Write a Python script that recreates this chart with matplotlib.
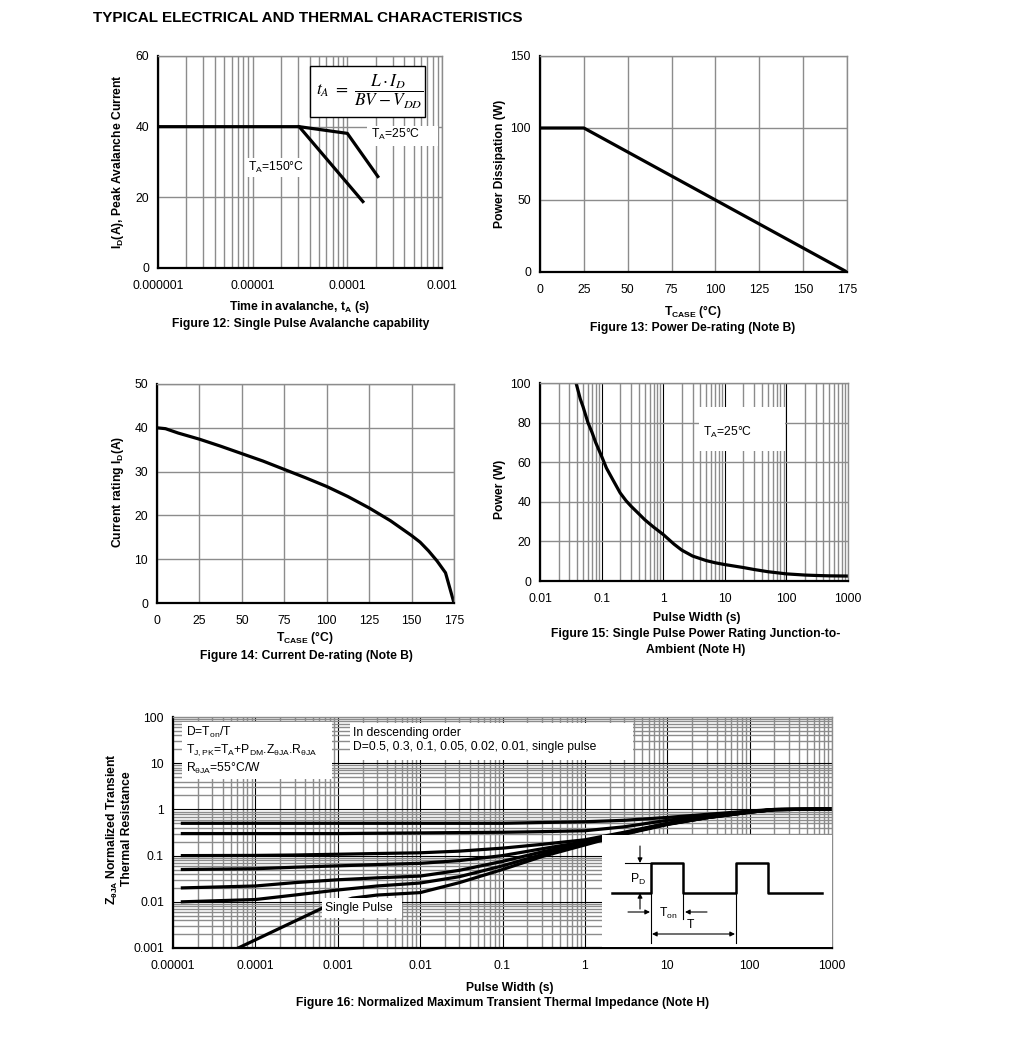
import numpy as np
import matplotlib
matplotlib.use("Agg")
from matplotlib import pyplot as plt
from matplotlib.patches import Rectangle

plt.rcParams['font.family'] = ['Liberation Sans', 'DejaVu Sans']
plt.rcParams['mathtext.fontset'] = 'custom'
plt.rcParams['mathtext.rm'] = 'Liberation Sans'
plt.rcParams['mathtext.it'] = 'Liberation Sans:italic'
plt.rcParams['mathtext.bf'] = 'Liberation Sans:bold'

# ---- data ----
# Fig 12: avalanche capability
t_av_150 = [1e-6, 3.1e-5, 1.46e-4]
id_av_150 = [40, 40, 18.8]
t_av_25 = [3.1e-5, 1e-4, 2.1e-4]
id_av_25 = [40, 38.1, 25.9]
fig12_xticks = [1e-6, 1e-5, 1e-4, 1e-3]
fig12_xlabels = ['0.000001', '0.00001', '0.0001', '0.001']

# Fig 13: power de-rating
tcase_pd = [0, 25, 175]
pd_w = [100, 100, 0]

# Fig 14: current de-rating
tcase_id = [0, 5, 12.5, 25, 37.5, 50, 62.5, 75, 87.5, 100, 112.5, 125,
            137.5, 150, 155, 160, 165, 170, 175]
id_rating = [40, 39.8, 38.8, 37.4, 35.8, 34.1, 32.4, 30.5, 28.6, 26.6, 24.3, 21.7,
             18.8, 15.4, 13.9, 11.9, 9.6, 6.9, 0]

# Fig 15: single pulse power rating
pw15 = [0.0385, 0.045, 0.05, 0.06, 0.07, 0.08, 0.1, 0.12, 0.15, 0.2, 0.25, 0.3,
        0.4, 0.5, 0.7, 1, 1.5, 2, 3, 5, 7, 10, 20, 30, 50, 100, 200, 300, 500, 1000]
pwr15 = [100, 92, 88, 80, 75, 70, 63, 57, 51.5, 44.5, 40.5, 37.8,
         34, 31, 27.2, 23.5, 18.6, 15.6, 12.6, 10.3, 9.2, 8.3, 6.8, 5.8, 4.7, 3.6,
         3.0, 2.8, 2.6, 2.5]
fig15_xticks = [0.01, 0.1, 1, 10, 100, 1000]
fig15_xlabels = ['0.01', '0.1', '1', '10', '100', '1000']

# Fig 16: normalized transient thermal impedance
pw16 = [1.3e-5, 1e-4, 3e-4, 1e-3, 3e-3, 1e-2, 3e-2, 1e-1, 3e-1, 1, 3, 10, 30, 100, 200, 1000]
z_d05 = [0.5, 0.5, 0.5, 0.5, 0.5, 0.5, 0.5, 0.5, 0.52, 0.54, 0.58, 0.67, 0.78, 0.92, 1.0, 1.02]
z_d03 = [0.3, 0.3, 0.3, 0.3, 0.305, 0.31, 0.315, 0.32, 0.33, 0.345, 0.42, 0.58, 0.74, 0.9, 0.99, 1.02]
z_d01 = [0.1, 0.101, 0.103, 0.107, 0.111, 0.115, 0.125, 0.145, 0.175, 0.22, 0.32, 0.5, 0.68, 0.88, 0.99, 1.02]
z_d005 = [0.05, 0.052, 0.056, 0.06, 0.064, 0.068, 0.078, 0.1, 0.14, 0.2, 0.31, 0.49, 0.67, 0.88, 0.99, 1.02]
z_d002 = [0.02, 0.022, 0.026, 0.03, 0.033, 0.036, 0.048, 0.075, 0.12, 0.19, 0.3, 0.48, 0.66, 0.87, 0.99, 1.02]
z_d001 = [0.01, 0.0112, 0.014, 0.018, 0.022, 0.0255, 0.035, 0.06, 0.105, 0.18, 0.3, 0.48, 0.66, 0.87, 0.99, 1.02]
pw16_single = [6.2e-5, 2e-4, 6.5e-4, 1.5e-3, 3e-3, 1e-2, 3e-2, 1e-1, 3e-1, 1, 3, 10, 30, 100, 200, 1000]
z_single = [0.001, 0.0027, 0.0073, 0.012, 0.014, 0.0158, 0.026, 0.05, 0.095, 0.17, 0.29, 0.47,
            0.66, 0.87, 0.99, 1.02]
fig16_xticks = [1e-5, 1e-4, 1e-3, 1e-2, 1e-1, 1, 10, 100, 1000]
fig16_xlabels = ['0.00001', '0.0001', '0.001', '0.01', '0.1', '1', '10', '100', '1000']
fig16_yticks = [1e-3, 1e-2, 1e-1, 1, 10, 100]
fig16_ylabels = ['0.001', '0.01', '0.1', '1', '10', '100']

# inset pulse sketch (figure pixels)
wave_x = [612, 651, 651, 683, 683, 736, 736, 768, 768, 822]
wave_y = [893, 893, 863, 863, 893, 893, 863, 863, 893, 893]

GRID = '#8c8c8c'
FS = 8.7
W, H = 1020, 1041
fig = plt.figure(figsize=(W / 100, H / 100), dpi=100)


def add_ax(l, t, r, b):
    return fig.add_axes([l / W, 1 - b / H, (r - l) / W, (b - t) / H])


def ftext(x, y, s, **kw):
    kw.setdefault('fontsize', FS)
    kw.setdefault('zorder', 7)
    return fig.text(x / W, 1 - y / H, s, **kw)


def white_box(l, t, r, b, ec='none'):
    fig.add_artist(Rectangle((l / W, 1 - b / H), (r - l) / W, (b - t) / H,
                             transform=fig.transFigure, fc='white', ec=ec,
                             lw=1, zorder=6))


def style(ax):
    ax.set_axisbelow(True)
    ax.tick_params(which='both', length=0, labelsize=FS)
    ax.tick_params(axis='x', pad=8.5)
    ax.tick_params(axis='y', pad=6.5)
    for s in ['top', 'right']:
        ax.spines[s].set_color(GRID)
        ax.spines[s].set_linewidth(1)
    for s in ['left', 'bottom']:
        ax.spines[s].set_color('black')
        ax.spines[s].set_linewidth(1.6)
    ax.grid(True, which='major', color=GRID, lw=1)


LW = 2.3

# ---- Figure 12 ----
ax = add_ax(158, 56, 442, 268)
style(ax)
ax.set_xscale('log')
ax.grid(True, which='minor', axis='x', color=GRID, lw=1)
ax.plot(t_av_150, id_av_150, color='black', lw=LW)
ax.plot(t_av_25, id_av_25, color='black', lw=LW)
ax.set_xlim(1e-6, 1e-3)
ax.set_ylim(0, 60)
ax.set_yticks([0, 20, 40, 60])
ax.set_xticks(fig12_xticks, fig12_xlabels)
ax.xaxis.set_minor_formatter(matplotlib.ticker.NullFormatter())
ftext(300, 307, r'Time in avalanche, t$_\mathbf{A}$ (s)', ha='center', va='center', weight='bold')
ftext(301, 324, 'Figure 12: Single Pulse Avalanche capability', ha='center', va='center', weight='bold')
ftext(118, 162, r'I$_\mathbf{D}$(A), Peak Avalanche Current', ha='center', va='center',
      weight='bold', rotation=90)
white_box(310, 66, 425, 117, ec='black')
ftext(370, 92, r'$t_A\ =\ \dfrac{L\cdot I_D}{BV-V_{DD}}$', ha='center', va='center',
      fontsize=12.5, math_fontfamily='stix')
white_box(367, 126, 438, 146)
ftext(371, 134, r'T$_\mathrm{A}$=25°C', va='center')
white_box(245, 158, 307, 177)
ftext(248, 167, r'T$_\mathrm{A}$=150°C', va='center')

# ---- Figure 13 ----
ax = add_ax(540, 56, 847, 272)
style(ax)
ax.plot(tcase_pd, pd_w, color='black', lw=LW)
ax.set_xlim(0, 175)
ax.set_ylim(0, 150)
ax.set_xticks(np.arange(0, 176, 25))
ax.set_yticks([0, 50, 100, 150])
ftext(693, 312, r'T$_\mathbf{CASE}$ (°C)', ha='center', va='center', weight='bold')
ftext(693, 328, 'Figure 13: Power De-rating (Note B)', ha='center', va='center', weight='bold')
ftext(500, 164, 'Power Dissipation (W)', ha='center', va='center', weight='bold', rotation=90)

# ---- Figure 14 ----
ax = add_ax(157, 384, 454, 603)
style(ax)
ax.plot(tcase_id, id_rating, color='black', lw=LW)
ax.set_xlim(0, 175)
ax.set_ylim(0, 50)
ax.set_xticks(np.arange(0, 176, 25))
ax.set_yticks(np.arange(0, 51, 10))
ftext(305, 638, r'T$_\mathbf{CASE}$ (°C)', ha='center', va='center', weight='bold')
ftext(306, 656, 'Figure 14: Current De-rating (Note B)', ha='center', va='center', weight='bold')
ftext(118, 492, r'Current rating I$_\mathbf{D}$(A)', ha='center', va='center', weight='bold', rotation=90)

# ---- Figure 15 ----
ax = add_ax(540, 383, 848, 581)
style(ax)
ax.set_xscale('log')
ax.grid(True, which='major', axis='x', color='black', lw=0.8)
ax.grid(True, which='minor', axis='x', color=GRID, lw=1)
ax.plot(pw15, pwr15, color='black', lw=LW)
ax.set_xlim(0.01, 1000)
ax.set_ylim(0, 100)
ax.set_yticks(np.arange(0, 101, 20))
ax.set_xticks(fig15_xticks, fig15_xlabels)
ax.xaxis.set_minor_formatter(matplotlib.ticker.NullFormatter())
ftext(697, 618, 'Pulse Width (s)', ha='center', va='center', weight='bold')
ftext(696, 642, 'Figure 15: Single Pulse Power Rating Junction-to-\nAmbient (Note H)',
      ha='center', va='center', weight='bold', linespacing=1.45)
ftext(500, 489, 'Power (W)', ha='center', va='center', weight='bold', rotation=90)
white_box(699, 407, 785, 451)
ftext(703, 432, r'T$_\mathrm{A}$=25°C', va='center')

# ---- Figure 16 ----
ax = add_ax(173, 717, 832, 948)
style(ax)
ax.set_xscale('log')
ax.set_yscale('log')
ax.grid(True, which='major', color='black', lw=0.8)
ax.grid(True, which='minor', color=GRID, lw=1)
for z in [z_d05, z_d03, z_d01, z_d005, z_d002, z_d001]:
    ax.plot(pw16, z, color='black', lw=LW)
ax.plot(pw16_single, z_single, color='black', lw=LW)
ax.set_xlim(1e-5, 1000)
ax.set_ylim(1e-3, 100)
ax.set_xticks(fig16_xticks, fig16_xlabels)
ax.set_yticks(fig16_yticks, fig16_ylabels)
ax.xaxis.set_minor_formatter(matplotlib.ticker.NullFormatter())
ax.yaxis.set_minor_formatter(matplotlib.ticker.NullFormatter())
ftext(510, 988, 'Pulse Width (s)', ha='center', va='center', weight='bold')
ftext(503, 1003, 'Figure 16: Normalized Maximum Transient Thermal Impedance (Note H)',
      ha='center', va='center', weight='bold')
ftext(119, 829, 'Z$_\\mathbf{θJA}$ Normalized Transient\nThermal Resistance', ha='center',
      va='center', weight='bold', rotation=90, linespacing=1.2, multialignment='center')

white_box(182, 722, 332, 779)
ftext(186, 732, r'D=T$_\mathrm{on}$/T', va='center')
ftext(186, 750, r'T$_\mathrm{J,PK}$=T$_\mathrm{A}$+P$_\mathrm{DM}$.Z$_\mathrm{θJA}$.R$_\mathrm{θJA}$', va='center')
ftext(186, 768, r'R$_\mathrm{θJA}$=55°C/W', va='center')
white_box(350, 723, 633, 760)
ftext(353, 733, 'In descending order', va='center')
ftext(353, 747, 'D=0.5, 0.3, 0.1, 0.05, 0.02, 0.01, single pulse', va='center')
white_box(322, 898, 402, 918)
ftext(325, 908, 'Single Pulse', va='center')

# inset: pulse train sketch
ins = fig.add_axes([602 / W, 1 - 947 / H, 230 / W, 112 / H])
ins.set_zorder(8)
ins.set_xlim(602, 832)
ins.set_ylim(947, 835)
ins.axis('off')
ins.add_patch(Rectangle((602, 835), 230, 112, fc='white', ec='none'))
ins.plot(wave_x, wave_y, color='black', lw=1.8)
thin = dict(color='black', lw=0.8)
ins.plot([625, 651], [863, 863], **thin)
ins.plot([683, 683], [893, 919], **thin)
ins.plot([651, 651], [893, 943], **thin)
ins.plot([736, 736], [893, 943], **thin)
arr = dict(arrowstyle='-|>', color='black', lw=0.8, mutation_scale=7, shrinkA=0, shrinkB=0)
ins.annotate('', xy=(640, 863), xytext=(640, 846), arrowprops=arr)
ins.annotate('', xy=(640, 893), xytext=(640, 909), arrowprops=arr)
ins.annotate('', xy=(650, 912), xytext=(628, 912), arrowprops=arr)
ins.annotate('', xy=(685, 912), xytext=(707, 912), arrowprops=arr)
ins.annotate('', xy=(652, 934), xytext=(735, 934),
             arrowprops=dict(arrowstyle='<|-|>', color='black', lw=0.8, mutation_scale=7,
                             shrinkA=0, shrinkB=0))
ins.text(638, 879, r'P$_\mathrm{D}$', ha='center', va='center', fontsize=FS)
ins.text(668, 913, r'T$_\mathrm{on}$', ha='center', va='center', fontsize=FS)
ins.text(690, 925, 'T', ha='center', va='center', fontsize=FS)

# ---- page title ----
ftext(93, 18, 'TYPICAL ELECTRICAL AND THERMAL CHARACTERISTICS', va='center',
      weight='bold', fontsize=11)

fig.savefig('out.png', dpi=100)
